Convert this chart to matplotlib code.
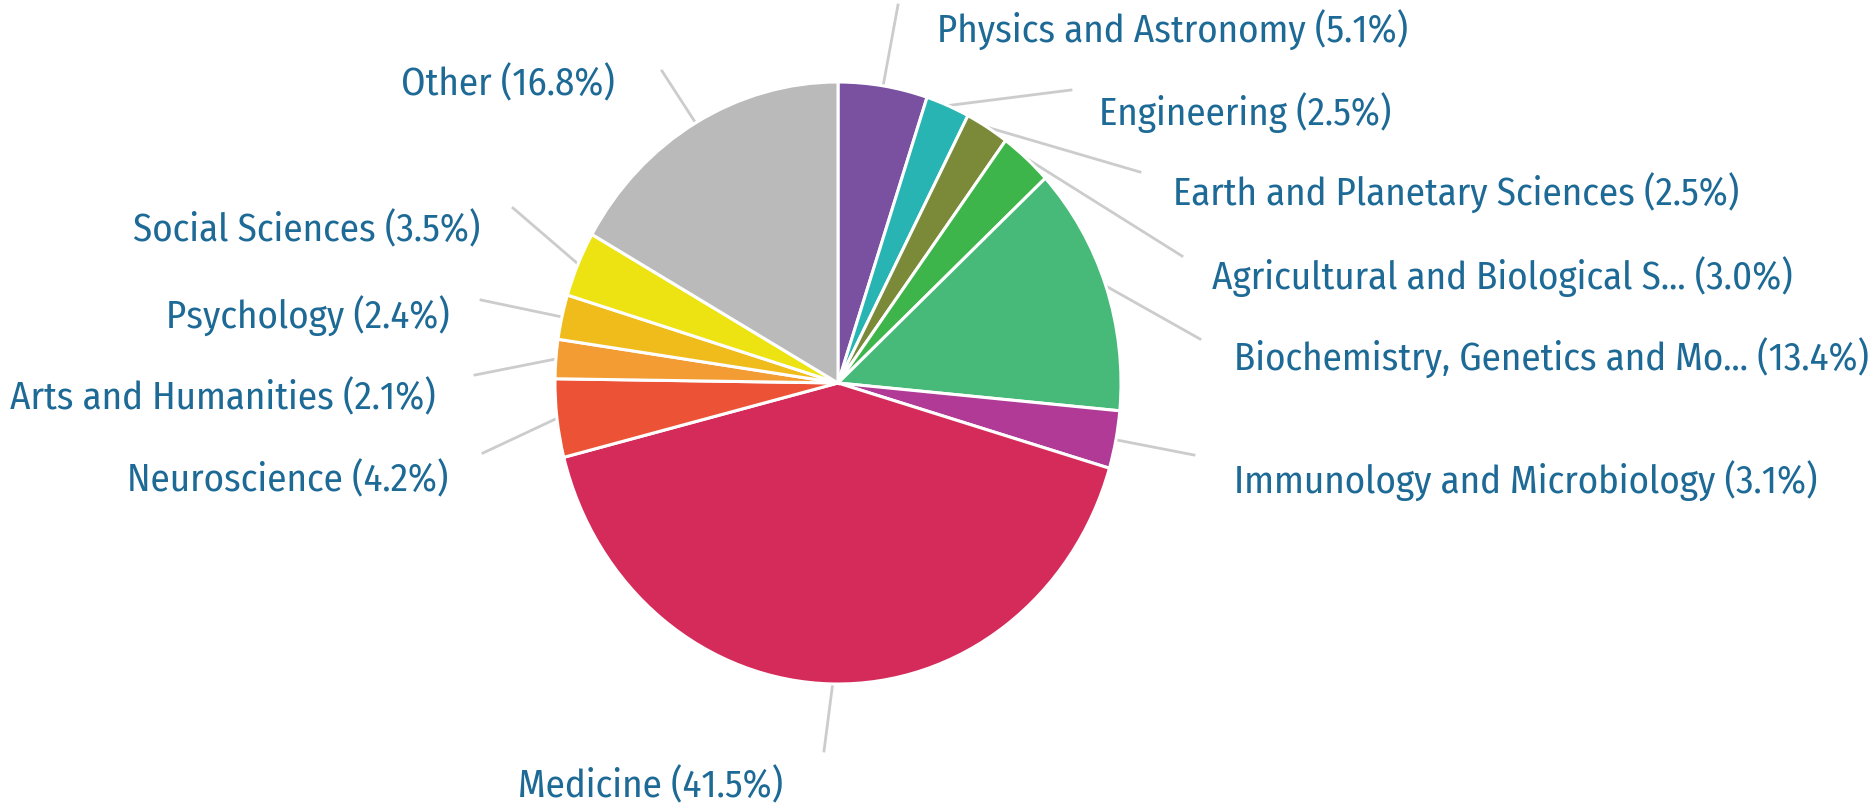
import numpy as np
import matplotlib
matplotlib.use("Agg")
import matplotlib.pyplot as plt

# subject areas, clockwise from 12 o'clock
labels = ["Physics and Astronomy", "Engineering", "Earth and Planetary Sciences",
          "Agricultural and Biological S...", "Biochemistry, Genetics and Mo...",
          "Immunology and Microbiology", "Medicine", "Neuroscience",
          "Arts and Humanities", "Psychology", "Social Sciences", "Other"]
shares = [5.1, 2.5, 2.5, 3.0, 13.4, 3.1, 41.5, 4.2, 2.1, 2.4, 3.5, 16.8]
colors = ["#7A51A1", "#27B4B2", "#7B8A38", "#3EB54A", "#47B978", "#B03A96",
          "#D42B5B", "#EC5236", "#F39C33", "#F0BC1C", "#EDE313", "#BABABA"]

# label layout in pixels (x, y from top, alignment, leader end)
label_pos = [(937, 30, "left", (898, 6)),
             (1099, 113, "left", (1071, 91)),
             (1173, 193, "left", (1140, 173)),
             (1212, 277, "left", (1182, 257)),
             (1234, 358, "left", (1200, 340)),
             (1234, 481, "left", (1194, 456)),
             (651, 786, "center", (824, 752)),
             (448, 480, "right", (483, 454)),
             (436, 398, "right", (475, 376)),
             (450, 316, "right", (481, 301)),
             (480, 230, "right", (513, 209)),
             (615, 84, "right", (662, 72))]

W, H = 1872, 804
cx, cy, rx, ry = 838, 384, 283, 301   # pie is slightly squashed sideways
font = ["Fira Sans Condensed", "Asap Condensed", "DejaVu Sans"]

fig = plt.figure(figsize=(W / 100, H / 100), dpi=100)
ax = fig.add_axes([0, 0, 1, 1])
ax.set_xlim(0, W)
ax.set_ylim(0, H)
ax.axis("off")

pax = fig.add_axes([(cx - rx) / W, (H - cy - ry) / H, 2 * rx / W, 2 * ry / H])
pax.pie(shares, colors=colors, startangle=90, counterclock=False, radius=1,
        wedgeprops=dict(edgecolor="white", linewidth=2.2))
pax.set_aspect("auto")
pax.set_xlim(-1, 1)
pax.set_ylim(-1, 1)
pax.axis("off")

total = sum(shares)
cum = np.cumsum([0] + shares[:-1])
for i, (lab, val) in enumerate(zip(labels, shares)):
    mid = (cum[i] + val / 2) / total * 2 * np.pi
    sx = cx + rx * np.sin(mid)
    sy = cy - ry * np.cos(mid)
    tx, ty, ha, (ex, ey) = label_pos[i]
    ax.plot([sx, ex], [H - sy, H - ey], color="#CCCCCC", lw=2, zorder=0)
    ax.text(tx, H - ty, f"{lab} ({val:.1f}%)", ha=ha, va="center",
            fontsize=28, color="#1E6A96", family=font)

fig.savefig("out.png", dpi=100)
